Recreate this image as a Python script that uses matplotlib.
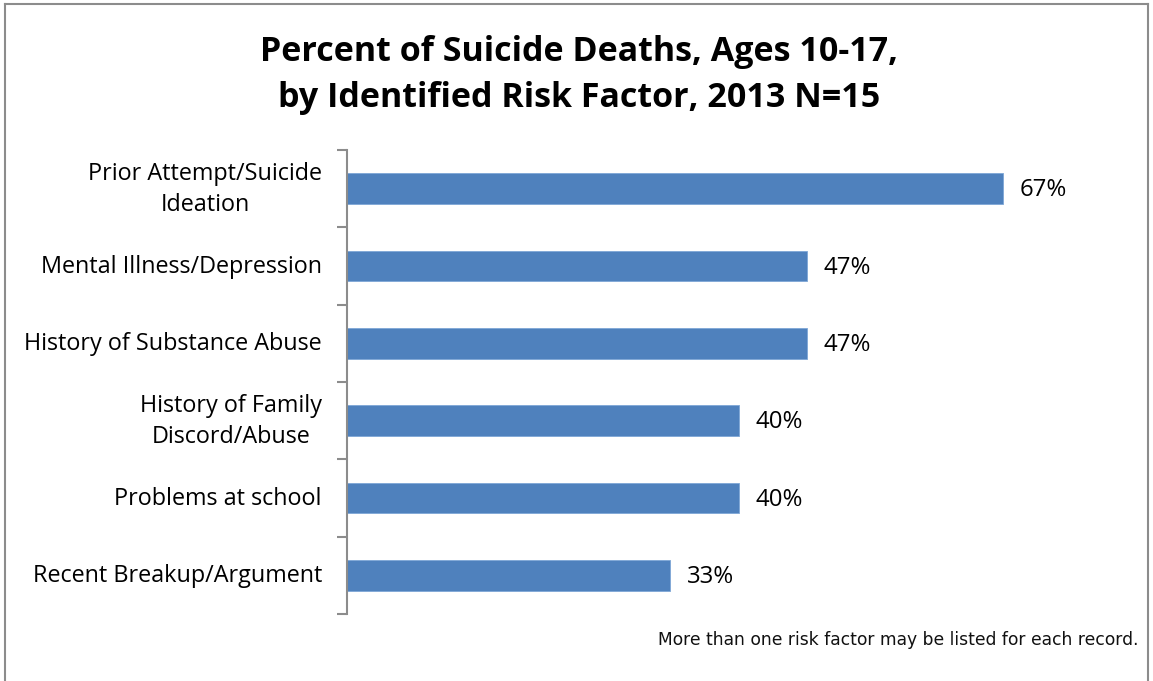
import matplotlib
matplotlib.use("Agg")
import matplotlib.pyplot as plt
from matplotlib.lines import Line2D

categories = ["Prior Attempt/Suicide\nIdeation", "Mental Illness/Depression",
              "History of Substance Abuse", "History of Family\nDiscord/Abuse",
              "Problems at school", "Recent Breakup/Argument"]
values = [67, 47, 47, 40, 40, 33]
value_labels = ["67%", "47%", "47%", "40%", "40%", "33%"]

W, H = 1153, 681
fig = plt.figure(figsize=(W / 100, H / 100), dpi=100)
fig.patch.set_facecolor("white")

# outer border
bc = "#8c8c8c"
fig.add_artist(Line2D([5 / W, 5 / W], [0, 1 - 4 / H], transform=fig.transFigure, color=bc, lw=1.5))
fig.add_artist(Line2D([5 / W, 1148 / W], [1 - 4 / H, 1 - 4 / H], transform=fig.transFigure, color=bc, lw=1.5))
fig.add_artist(Line2D([1148 / W, 1148 / W], [0, 1 - 4 / H], transform=fig.transFigure, color=bc, lw=1.5))

ax_left, ax_right = 347, 1130
ax_top, ax_bottom = 150, 614
ax = fig.add_axes([ax_left / W, (H - ax_bottom) / H, (ax_right - ax_left) / W, (ax_bottom - ax_top) / H])

xmax = (ax_right - ax_left) / ((1003 - 347) / 67)
n = len(categories)
ypos = list(range(n))
ax.barh(ypos, values, height=0.4, color="#4F81BD", edgecolor="#7ea6d6", linewidth=0.6, zorder=2)
ax.set_xlim(0, xmax)
ax.set_ylim(n - 0.5, -0.5)

for y, v, lab in zip(ypos, values, value_labels):
    ax.text(v + 1.7, y + 0.02, lab, va="center", ha="left", fontsize=17.3, family="Open Sans", color="black")

ax.set_xticks([])
ax.set_yticks([i - 0.5 for i in range(n + 1)])
ax.set_yticklabels([])
ax.tick_params(axis="y", length=7, width=1.5, color=bc, direction="out")
for y, c in zip(ypos, categories):
    ax.text(-0.032 * xmax, y + 0.01, c, va="center", ha="right", fontsize=16.8, family="Open Sans",
            color="black", linespacing=1.35, multialignment="center")

for s in ["top", "right", "bottom"]:
    ax.spines[s].set_visible(False)
ax.spines["left"].set_color(bc)
ax.spines["left"].set_linewidth(1.5)

fig.text(579 / W, 1 - 75 / H, "Percent of Suicide Deaths, Ages 10-17,\nby Identified Risk Factor, 2013 N=15",
         ha="center", va="center", fontsize=24.5, fontweight="bold", family="Open Sans", linespacing=1.45)

fig.text(1138 / W, 1 - 640 / H, "More than one risk factor may be listed for each record.",
         ha="right", va="center", fontsize=12.3, family="DejaVu Sans", color="#111111")

fig.savefig("out.png", dpi=100, facecolor="white")
